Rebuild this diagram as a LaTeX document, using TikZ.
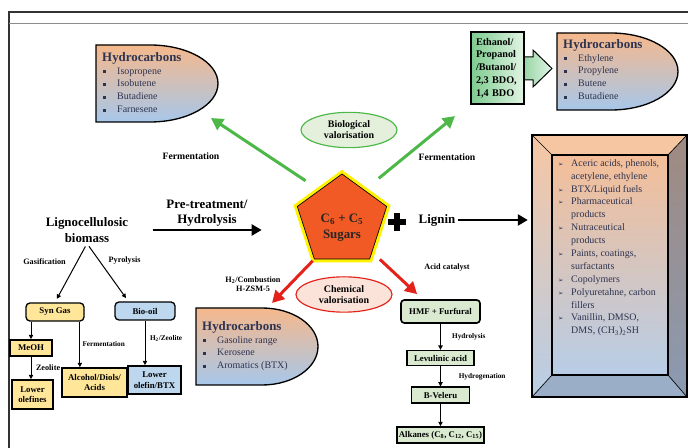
\documentclass[tikz,border=0pt]{standalone}
\usepackage{fontspec}
\setmainfont{Liberation Serif}
\newfontfamily\dingfont{DejaVu Sans}
\usepackage{xcolor}
\usetikzlibrary{positioning, arrows.meta, shapes.geometric}
\definecolor{PeachTop}{HTML}{F5B88C}
\definecolor{SkyBottom}{HTML}{A7C7EA}
\definecolor{BioGreen}{HTML}{4DB848}
\definecolor{BioFill}{HTML}{E4F0DC}
\definecolor{ChemRed}{HTML}{E3231B}
\definecolor{ChemFill}{HTML}{FBE3DA}
\definecolor{SugarOrange}{HTML}{F15A24}
\definecolor{GlowYellow}{HTML}{FFF200}
\definecolor{SynYellow}{HTML}{FFE699}
\definecolor{OilBlue}{HTML}{BDD7EE}
\definecolor{ChainGreen}{HTML}{D9EAD0}
\definecolor{EthDark}{HTML}{7DCB8F}
\definecolor{EthLight}{HTML}{E2F4E4}
\definecolor{BevelTop}{HTML}{F6C6A3}
\definecolor{BevelSideTop}{HTML}{A08A80}
\definecolor{BevelSideBot}{HTML}{8A9AB2}
\definecolor{BevelBase}{HTML}{9AAEC8}
\definecolor{InnerTop}{HTML}{F4BE98}
\definecolor{InnerBot}{HTML}{B7CDE6}
\definecolor{ItemInk}{HTML}{2E3350}
\newcommand{\sqbullet}{\makebox[4.5mm][l]{\hspace{0.3mm}\rule[0.25ex]{2.3pt}{2.3pt}}}
\newcommand{\arrbullet}{\makebox[3.9mm][l]{\dingfont\fontsize{5.5}{5.5}\selectfont ➢}}

\begin{document}
\begin{tikzpicture}[
    x=0.3mm, y=-0.3mm,
    node distance=6.6mm,
    hcblob/.style={draw=black, line width=0.4mm, top color=PeachTop, bottom color=SkyBottom},
    hctext/.style={anchor=north west, inner sep=0pt, align=left, text=ItemInk, font=\fontsize{8.5}{11}\selectfont},
    valor/.style={ellipse, line width=0.35mm, minimum width=28.8mm, minimum height=10.6mm, inner sep=0pt, align=center, font=\fontsize{8.5}{9.5}\selectfont\bfseries},
    sugar/.style={regular polygon, regular polygon sides=5, minimum size=28.2mm, fill=SugarOrange, draw=black, line width=0.2mm, preaction={draw=GlowYellow, line width=2mm}, inner sep=0pt},
    bigtext/.style={font=\fontsize{11}{13}\selectfont\bfseries, align=center, inner sep=1pt},
    steptext/.style={font=\fontsize{8.3}{10}\selectfont\bfseries},
    smalltext/.style={font=\fontsize{7}{8}\selectfont\bfseries, inner sep=1pt, align=center},
    tinytext/.style={font=\fontsize{6.2}{7}\selectfont\bfseries, inner sep=1pt},
    synbox/.style={draw=black, line width=0.5mm, fill=SynYellow, inner sep=0pt, align=center, font=\fontsize{7.5}{9}\selectfont\bfseries},
    oilbox/.style={synbox, fill=OilBlue},
    chainbox/.style={synbox, fill=ChainGreen},
    ethbox/.style={draw=black, line width=0.55mm, left color=EthDark, right color=EthLight, minimum width=15.9mm, minimum height=21.6mm, inner xsep=1.5mm, text width=12.9mm, align=left, font=\fontsize{8.7}{10.9}\selectfont\bfseries},
    bioarrow/.style={draw=BioGreen, line width=0.9mm, -{Triangle[length=3.6mm, width=3.8mm]}},
    chemarrow/.style={bioarrow, draw=ChemRed},
    bigarrow/.style={draw=black, line width=0.8mm, -{Triangle[length=3mm, width=3.3mm]}},
    thinarrow/.style={draw=black, line width=0.3mm, -{Triangle[length=1.3mm, width=1.3mm]}}
]
\useasboundingbox (0,0) rectangle (688,448);
\draw[line width=0.45mm, black!80] (9,448) -- (9,12) -- (688,12);
\draw[line width=0.3mm, black!45] (9,24) -- (688,24);

\path[hcblob] (96,45) -- (150,45) .. controls (187.6,45) and (218,62.2) .. (218,83.5) .. controls (218,104.8) and (187.6,122) .. (150,122) -- (96,122) -- cycle;
\node[hctext] (hcA) at (102,52) {\textbf{\fontsize{11}{12}\selectfont Hydrocarbons}\\ \sqbullet Isopropene\\ \sqbullet Isobutene\\ \sqbullet Butadiene\\ \sqbullet Farnesene};
\coordinate (hcA-in) at (211,118);

\path[hcblob] (557,33) -- (611,33) .. controls (648,33) and (678,50.2) .. (678,71.5) .. controls (678,92.8) and (648,110) .. (611,110) -- (557,110) -- cycle;
\node[hctext] (hcB) at (563,39) {\textbf{\fontsize{11}{12}\selectfont Hydrocarbons}\\ \sqbullet Ethylene\\ \sqbullet Propylene\\ \sqbullet Butene\\ \sqbullet Butadiene};

\path[hcblob] (196,308) -- (262,308) .. controls (293,308) and (318,325.2) .. (318,346.5) .. controls (318,367.8) and (293,385) .. (262,385) -- (196,385) -- cycle;
\node[hctext] (hcC) at (202,321) {\textbf{\fontsize{11}{12}\selectfont Hydrocarbons}\\ \sqbullet Gasoline range\\ \sqbullet Kerosene\\ \sqbullet Aromatics (BTX)};
\coordinate (hcC-in) at (272,303);

\draw[line width=0.3mm, left color=EthDark!80, right color=EthLight] (524,57) -- (533,57) -- (533,50) -- (552,68.5) -- (533,87) -- (533,80) -- (524,80) -- cycle;
\node[ethbox] (eth) at (497.5,68) {Ethanol/\\Propanol\\/Butanol/\\2,3 BDO,\\1,4 BDO};
\coordinate (bio-right-end) at (455,116);

\node[sugar, label={[font=\fontsize{11}{13}\selectfont\bfseries, align=center, text=black!85, yshift=-2mm]center:{C\textsubscript{6} + C\textsubscript{5}\\Sugars}}] (sugars) at (342,221) {};
\node (plus) at (397,222) {};
\draw[line width=1.7mm] ([xshift=-2.8mm]plus.center) -- ([xshift=2.8mm]plus.center) ([yshift=-2.8mm]plus.center) -- ([yshift=2.8mm]plus.center);
\node[bigtext] (lignin) at (437,220) {Lignin};

\node[valor, draw=BioGreen, fill=BioFill] (bioval) at (349,130) {Biological\\valorisation};
\node[valor, draw=ChemRed, fill=ChemFill] (chemval) at (344,294.5) {Chemical\\valorisation};
\node[steptext] (fermL) at (191,156) {Fermentation};
\node[steptext] (fermR) at (447,157) {Fermentation};
\node[smalltext] (hzsm) at (253,284) {H\textsubscript{2}/Combustion\\H-ZSM-5};
\node[smalltext] (acidcat) at (447,268) {Acid catalyst};

\draw[bioarrow, shorten <=5mm] (sugars.side 1) -- (hcA-in);
\draw[bioarrow, shorten <=5.5mm] (sugars.side 5) -- (bio-right-end);

\node[chainbox, rounded corners=1mm, minimum width=23.7mm, minimum height=6.9mm] (hmf) at (440.5,311.5) {HMF + Furfural};
\node[chainbox, minimum width=20.1mm, minimum height=4.5mm, below=7.8mm of hmf] (levulinic) {Levulinic acid};
\node[chainbox, minimum width=17.4mm, minimum height=4.8mm, below=6mm of levulinic] (bveleru) {B-Veleru};
\node[chainbox, minimum width=26.1mm, minimum height=4.8mm, below=of bveleru] (alkanes) {Alkanes (C\textsubscript{8}, C\textsubscript{12}, C\textsubscript{15})};
\draw[thinarrow] (hmf) -- node[tinytext, right=3mm] {Hydrolysis} (levulinic);
\draw[thinarrow] (levulinic) -- node[tinytext, right=5mm] {Hydrogenation} (bveleru);
\draw[thinarrow] (bveleru) -- (alkanes);

\draw[chemarrow, shorten <=0.6mm] (sugars.corner 3) -- (hcC-in);
\draw[chemarrow] ([xshift=3mm]sugars.corner 4) -- ([shift={(5.1mm,1.5mm)}]hmf.north west);

\node[minimum width=46.5mm, minimum height=78.6mm, inner sep=0pt] (products) at (609.5,266) {};
\fill[BevelTop] (532,135) -- (687,135) -- (668,155) -- (552,155) -- cycle;
\shade[top color=BevelTop, bottom color=InnerBot] (532,135) -- (552,155) -- (552,375) -- (532,397) -- cycle;
\shade[top color=BevelSideTop, bottom color=BevelSideBot] (687,135) -- (687,397) -- (668,375) -- (668,155) -- cycle;
\fill[BevelBase] (532,397) -- (552,375) -- (668,375) -- (687,397) -- cycle;
\draw[line width=0.2mm] (532,135) -- (552,155) (687,135) -- (668,155) (532,397) -- (552,375) (687,397) -- (668,375);
\draw[line width=0.45mm, top color=InnerTop, bottom color=InnerBot] (552,155) rectangle (668,375);
\draw[line width=0.5mm] (532,135) rectangle (687,397);
\node[anchor=north west, inner sep=0pt, text=ItemInk, font=\fontsize{8.5}{11}\selectfont] (uses) at (558,157) {%
\begin{tabular}{@{}l@{}l@{}}
\arrbullet & Aceric acids, phenols,\\
 & acetylene, ethylene\\
\arrbullet & BTX/Liquid fuels\\
\arrbullet & Pharmaceutical\\
 & products\\
\arrbullet & Nutraceutical\\
 & products\\
\arrbullet & Paints, coatings,\\
 & surfactants\\
\arrbullet & Copolymers\\
\arrbullet & Polyuretahne, carbon\\
 & fillers\\
\arrbullet & Vanillin, DMSO,\\
 & DMS, (CH\textsubscript{3})\textsubscript{2}SH
\end{tabular}};
\draw[bigarrow, shorten <=0.5mm, shorten >=1.2mm] (lignin.east) -- (products.west |- lignin.east);

\node[bigtext] (biomass) at (87,230) {Lignocellulosic\\biomass};
\node[bigtext] (pretreat) at (207,213) {Pre-treatment/\\Hydrolysis};
\draw[bigarrow, shorten <=6.9mm, shorten >=12mm] (biomass.east) -- (sugars.west |- biomass.east);

\node[synbox, rounded corners=1.2mm, line width=0.4mm, minimum width=17.4mm, minimum height=5.4mm] (syngas) at (55,312) {Syn Gas};
\node[oilbox, rounded corners=1.2mm, line width=0.4mm, minimum width=18mm, minimum height=5.4mm] (biooil) at (145,311) {Bio-oil};
\node[synbox, minimum width=12.6mm, minimum height=4.8mm] (meoh) at (31,348) {MeOH};
\node[synbox, minimum width=12.3mm, minimum height=8.7mm] (lowolef) at (32.5,394.5) {Lower\\olefines};
\node[synbox, minimum width=19.5mm, minimum height=8.7mm] (alcohol) at (94.5,382.5) {Alcohol/Diols/\\Acids};
\node[oilbox, minimum width=15.9mm, minimum height=8.4mm] (lowbtx) at (154.5,380) {Lower\\olefin/BTX};

\draw[thinarrow, shorten <=1mm, shorten >=1.2mm] (biomass.south) -- node[smalltext, pos=0.3, left=3mm] {Gasification} (syngas.north);
\draw[thinarrow, shorten <=1mm, shorten >=1.2mm] (biomass.south) -- node[smalltext, pos=0.3, right=2.3mm] {Pyrolysis} ([xshift=-5mm]biooil.north);
\draw[thinarrow] (meoh.north |- syngas.south) -- (meoh.north);
\draw[thinarrow] (meoh.south) -- node[smalltext, right=1mm] {Zeolite} (meoh.south |- lowolef.north);
\draw[thinarrow] ([xshift=-4.4mm]alcohol.north |- syngas.south) -- node[tinytext, right=0.3mm] {Fermentation} ([xshift=-4.4mm]alcohol.north);
\draw[thinarrow] (biooil.south) -- node[tinytext, pos=0.4, right=1mm] {H\textsubscript{2}/Zeolite} (biooil.south |- lowbtx.north);
\end{tikzpicture}
\end{document}
